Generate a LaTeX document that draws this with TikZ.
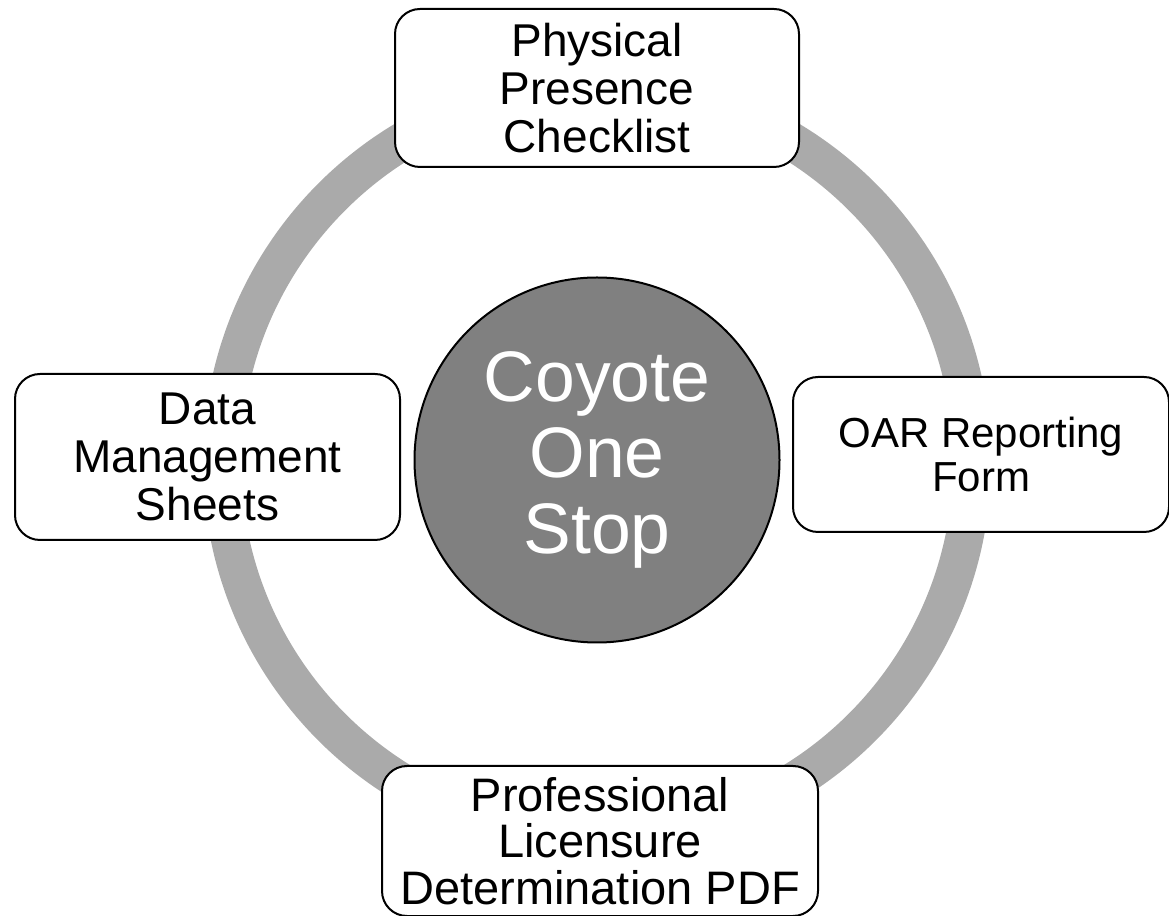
\documentclass[tikz,border=0pt]{standalone}
\usepackage{fontspec}
\setmainfont{Liberation Sans}
\usetikzlibrary{positioning}

\begin{document}
\begin{tikzpicture}[x=1pt,y=1pt]
  \tikzset{
  	ring/.style={draw=ringgray, line width=38pt},
  	item/.style={draw=black, fill=white, line width=2pt, rounded corners=25pt, align=center, inner sep=0pt, font=\fontsize{46}{48}\selectfont},
  	hubdisc/.style={circle, draw=black, fill=hubgray, line width=2pt, minimum size=365pt, inner sep=0pt, align=center, text=white, font=\fontsize{71.5}{76}\selectfont},
  }
  \definecolor{ringgray}{RGB}{170,170,170}
  \definecolor{hubgray}{RGB}{128,128,128}
  \useasboundingbox (0,0) rectangle (1169,915);
  \coordinate (hub) at (597,453); % ring centre
  \coordinate (n) at (597,827);   % north
  \coordinate (w) at (207.5,458); % west
  \coordinate (e) at (981,460.5); % east
  \coordinate (s) at (600,74);    % south

  % The ring goes under everything else.
  \draw[ring] (hub) circle (375);

  % The centre disc.
  \node[hubdisc] (coyote) at (597,455) {Coyote\\One\\Stop};

  % The four boxes on the ring.
  \node[item, minimum width=404pt, minimum height=158pt] (checklist) at (n) {Physical\\Presence\\Checklist};
  \node[item, minimum width=385pt, minimum height=166pt] (sheets) at (w) {Data\\Management\\Sheets};
  \node[item, minimum width=376pt, minimum height=155pt, font=\fontsize{42}{44}\selectfont] (oar) at (e) {OAR Reporting\\Form};
  \node[item, minimum width=436pt, minimum height=150pt, font=\fontsize{47}{46.5}\selectfont] (licensure) at (s) {Professional\\Licensure\\Determination PDF};
\end{tikzpicture}
\end{document}
